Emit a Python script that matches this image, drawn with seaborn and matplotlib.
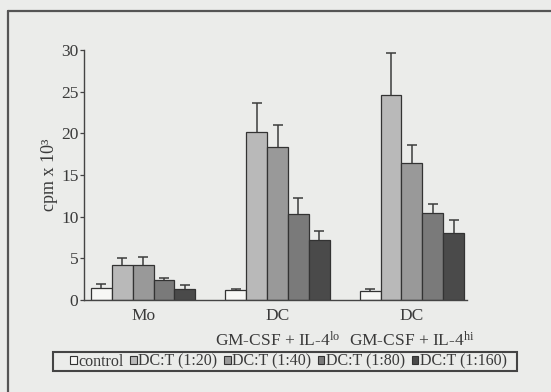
import numpy as np
import pandas as pd
import seaborn as sns
import matplotlib
matplotlib.use("Agg")
import matplotlib.pyplot as plt
from matplotlib.lines import Line2D
from matplotlib.patches import Rectangle

# Cell groups on the x axis
groups = ["Mo",
          "DC\nGM-CSF + IL-4$^{\\mathrm{lo}}$",
          "DC\nGM-CSF + IL-4$^{\\mathrm{hi}}$"]

# Stimulator : responder ratios (legend entries)
series = ["control", "DC:T (1:20)", "DC:T (1:40)", "DC:T (1:80)", "DC:T (1:160)"]

# Mean proliferation (cpm x 10^3) per series, one value per group
control = [1.4, 1.2, 1.1]
dct_20 = [4.2, 20.1, 24.6]
dct_40 = [4.2, 18.4, 16.5]
dct_80 = [2.4, 10.3, 10.5]
dct_160 = [1.3, 7.2, 8.1]

# Upper error (SD) per series
control_err = [0.5, 0.15, 0.2]
dct_20_err = [0.9, 3.5, 5.0]
dct_40_err = [1.0, 2.6, 2.1]
dct_80_err = [0.2, 2.0, 1.0]
dct_160_err = [0.5, 1.1, 1.5]

yticks = [0, 5, 10, 15, 20, 25, 30]

values = [control, dct_20, dct_40, dct_80, dct_160]
errors = [control_err, dct_20_err, dct_40_err, dct_80_err, dct_160_err]

rows = []
for s, vals in zip(series, values):
    for g, v in zip(groups, vals):
        rows.append({"group": g, "series": s, "cpm": v})
df = pd.DataFrame(rows)

bg = "#ebecea"
ink = "#3a3a3a"
colors = ["#f7f7f5", "#b9b9b9", "#999999", "#7a7a7a", "#4a4a4a"]

sns.set_theme(style="white")
plt.rcParams["font.family"] = ["Liberation Serif", "DejaVu Serif"]
plt.rcParams["mathtext.fontset"] = "custom"
plt.rcParams["mathtext.rm"] = "Liberation Serif"
plt.rcParams["mathtext.it"] = "Liberation Serif:italic"
plt.rcParams["text.color"] = ink

W, H = 551, 392
fig = plt.figure(figsize=(W / 100, H / 100), dpi=100, facecolor=bg)
ax = fig.add_axes([84 / W, 1 - 300 / H, (467 - 84) / W, 250 / H])
ax.set_facecolor(bg)

sns.barplot(data=df, x="group", y="cpm", hue="series", order=groups,
            hue_order=series, palette=colors, width=0.775, errorbar=None,
            edgecolor="#333333", linewidth=0.9, saturation=1, ax=ax,
            legend=True)

# Upper-only error bars on each bar
for cont, err in zip(ax.containers, errors):
    xs = [p.get_x() + p.get_width() / 2 for p in cont.patches]
    hs = [p.get_height() for p in cont.patches]
    eb = ax.errorbar(xs, hs, yerr=[np.zeros(len(err)), err], fmt="none",
                     ecolor="#3c3c3c", elinewidth=1.1, capsize=3.5,
                     capthick=1.1)
    caps = eb.lines[1]
    if len(caps) == 2:
        caps[0].set_visible(False)

ax.set_xlim(-0.44, 2.41)
ax.set_ylim(0, 30)
ax.set_yticks(yticks)
ax.set_yticklabels([str(t) for t in yticks])
ax.set_xlabel("")
ax.set_ylabel("cpm x 10³", fontsize=13, color=ink, labelpad=2)

for side in ["top", "right"]:
    ax.spines[side].set_visible(False)
for side in ["left", "bottom"]:
    ax.spines[side].set_color("#444444")
    ax.spines[side].set_linewidth(1.0)

ax.tick_params(axis="y", direction="out", length=3, width=0.9,
               color="#444444", labelsize=12.5, labelcolor=ink, pad=1, left=True)
ax.tick_params(axis="x", length=0, labelsize=12.5, labelcolor=ink, pad=6)
for lab in ax.get_xticklabels():
    lab.set_linespacing(1.45)

leg = ax.legend(loc="center", bbox_to_anchor=(288.5 / W, 1 - 361.5 / H),
                bbox_transform=fig.transFigure, ncol=5, fontsize=11.5,
                frameon=False, handlelength=0.42, handleheight=0.42,
                handletextpad=0.1, columnspacing=0.4,
                borderpad=0, borderaxespad=0)
for t in leg.get_texts():
    t.set_color(ink)
for h in leg.legend_handles:
    h.set_edgecolor("#333333")
    h.set_linewidth(0.8)

# Legend box
fig.add_artist(Rectangle((53 / W, 1 - 371 / H), (517 - 53) / W, 19 / H,
                         transform=fig.transFigure, fill=False,
                         edgecolor="#444444", lw=1.5))

# Panel frame (left and top edges)
fig.add_artist(Line2D([8 / W, 8 / W], [0, 1 - 11 / H],
                      transform=fig.transFigure, color="#555555", lw=1.6))
fig.add_artist(Line2D([8 / W, 1], [1 - 11 / H, 1 - 11 / H],
                      transform=fig.transFigure, color="#555555", lw=1.6))

fig.savefig("out.png", dpi=100, facecolor=bg)
